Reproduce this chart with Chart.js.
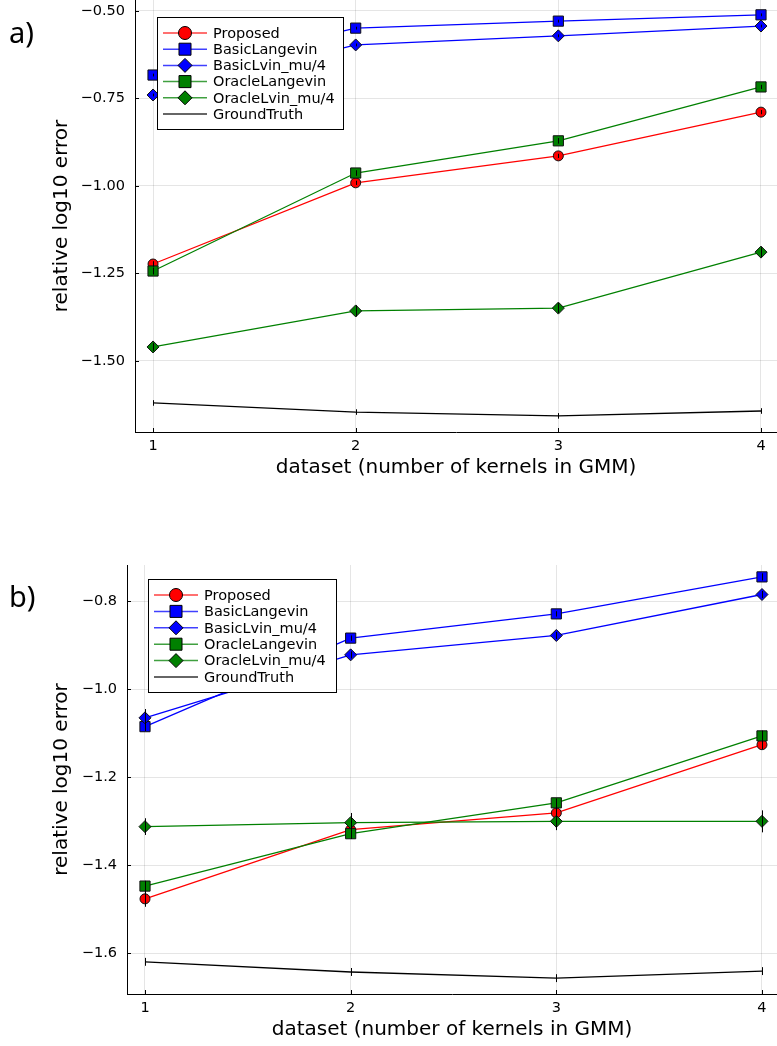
<!DOCTYPE html>
<html>
<head>
<meta charset="utf-8">
<script src="https://cdn.jsdelivr.net/npm/chart.js@4.4.0/dist/chart.umd.min.js"></script>
<style>
    body { margin: 0; background: #fff; width: 777px; height: 1046px; position: relative; overflow: hidden; }
    canvas { position: absolute; left: 0; }
    #chartA { top: 0; }
    #chartB { top: 520px; }
    .panel { position: absolute; left: 9px; font-family: "Noto Sans", sans-serif; font-size: 29px; line-height: 29px; color: #000; }
</style>
</head>
<body>
<canvas id="chartA" width="777" height="490"></canvas>
<canvas id="chartB" width="777" height="526"></canvas>
<div class="panel" style="top: 17px;">a)</div>
<div class="panel" style="top: 581px;">b)</div>
<script>
// x values: dataset (number of kernels)
const kernels = [1, 2, 3, 4];
const seriesNames = ["Proposed", "BasicLangevin", "BasicLvin_mu/4", "OracleLangevin", "OracleLvin_mu/4", "GroundTruth"];

// panel a)
const aProposed = [-1.223, -0.991, -0.914, -0.789];
const aBasicLangevin = [-0.683, -0.549, -0.529, -0.511];
const aBasicLvinMu4 = [-0.740, -0.597, -0.571, -0.543];
const aOracleLangevin = [-1.243, -0.963, -0.871, -0.717];
const aOracleLvinMu4 = [-1.460, -1.357, -1.349, -1.189];
const aGroundTruth = [-1.620, -1.646, -1.657, -1.643];

const aProposedErr = [0.008, 0.006, 0.006, 0.006];
const aBasicLangevinErr = [0.004, 0.004, 0.004, 0.004];
const aBasicLvinMu4Err = [0.004, 0.004, 0.004, 0.004];
const aOracleLangevinErr = [0.010, 0.008, 0.008, 0.006];
const aOracleLvinMu4Err = [0.012, 0.016, 0.014, 0.014];
const aGroundTruthErr = [0.008, 0.008, 0.008, 0.008];

const aYTicks = [-0.5, -0.75, -1.0, -1.25, -1.5];

// panel b)
const bProposed = [-1.476, -1.319, -1.281, -1.126];
const bBasicLangevin = [-1.085, -0.884, -0.829, -0.745];
const bBasicLvinMu4 = [-1.065, -0.922, -0.878, -0.785];
const bOracleLangevin = [-1.447, -1.328, -1.258, -1.106];
const bOracleLvinMu4 = [-1.312, -1.303, -1.300, -1.300];
const bGroundTruth = [-1.619, -1.642, -1.656, -1.640];

const bProposedErr = [0.018, 0.012, 0.014, 0.010];
const bBasicLangevinErr = [0.010, 0.006, 0.006, 0.008];
const bBasicLvinMu4Err = [0.020, 0.008, 0.008, 0.008];
const bOracleLangevinErr = [0.012, 0.012, 0.010, 0.012];
const bOracleLvinMu4Err = [0.019, 0.022, 0.020, 0.025];
const bGroundTruthErr = [0.009, 0.009, 0.009, 0.009];

const bYTicks = [-0.8, -1.0, -1.2, -1.4, -1.6];

Chart.defaults.font.family = "'DejaVu Sans', sans-serif";
Chart.defaults.color = "#000";

const styles = [
    { color: "#ff0000", fill: "#ff0000", point: "circle", radius: 5 },
    { color: "#0000ff", fill: "#0000ff", point: "rect", radius: 7.2 },
    { color: "#0000ff", fill: "#0000ff", point: "rectRot", radius: 6 },
    { color: "#008000", fill: "#008000", point: "rect", radius: 7.2 },
    { color: "#008000", fill: "#008000", point: "rectRot", radius: 6 },
    { color: "#000000", fill: "#000000", point: false, radius: 0 },
];
const legendRadius = [6.5, 8.5, 7, 8.5, 7, 0];

function toPoints(vals) {
    return kernels.map(function (k, i) { return { x: k, y: vals[i] }; });
}

function fmtMinus(v, digits) {
    return v.toFixed(digits).replace("-", "\u2212");
}

// error bars, inner tick marks and the legend box
const extrasPlugin = {
    id: "extras",
    afterDatasetsDraw(chart) {
        const ctx = chart.ctx;
        const xs = chart.scales.x;
        const ys = chart.scales.y;
        ctx.save();
        ctx.strokeStyle = "#000";
        ctx.lineWidth = 1;
        chart.data.datasets.forEach(function (ds) {
            ds.data.forEach(function (p, i) {
                const e = ds.errors[i];
                const px = Math.round(xs.getPixelForValue(p.x)) + 0.5;
                ctx.beginPath();
                ctx.moveTo(px, ys.getPixelForValue(p.y + e));
                ctx.lineTo(px, ys.getPixelForValue(p.y - e));
                ctx.stroke();
            });
        });
        ctx.restore();
    },
    afterDraw(chart, args, opts) {
        const ctx = chart.ctx;
        const area = chart.chartArea;
        const xs = chart.scales.x;
        const ys = chart.scales.y;
        ctx.save();
        ctx.strokeStyle = "#000";
        ctx.lineWidth = 1;
        ys.ticks.forEach(function (t) {
            const py = Math.round(ys.getPixelForValue(t.value)) + 0.5;
            ctx.beginPath();
            ctx.moveTo(area.left, py);
            ctx.lineTo(area.left + 4, py);
            ctx.stroke();
        });
        xs.ticks.forEach(function (t) {
            const px = Math.round(xs.getPixelForValue(t.value)) + 0.5;
            ctx.beginPath();
            ctx.moveTo(px, area.bottom);
            ctx.lineTo(px, area.bottom - 4);
            ctx.stroke();
        });

        // legend
        const b = opts.box;
        ctx.fillStyle = "#fff";
        ctx.fillRect(b.x, b.y, b.w, b.h);
        ctx.strokeStyle = "#000";
        ctx.strokeRect(b.x + 0.5, b.y + 0.5, b.w, b.h);
        ctx.font = "14.5px 'DejaVu Sans'";
        ctx.textBaseline = "middle";
        ctx.textAlign = "left";
        chart.data.datasets.forEach(function (ds, i) {
            const st = styles[i];
            const ry = b.y + 16 + i * opts.step;
            ctx.strokeStyle = st.color;
            ctx.globalAlpha = i === 5 ? 0.8 : 0.75;
            ctx.lineWidth = 1.5;
            ctx.beginPath();
            ctx.moveTo(b.x + 6, ry);
            ctx.lineTo(b.x + 50, ry);
            ctx.stroke();
            ctx.globalAlpha = 1;
            if (st.point) {
                ctx.fillStyle = st.fill;
                ctx.strokeStyle = "#000";
                ctx.lineWidth = 1;
                Chart.helpers.drawPoint(ctx, {
                    pointStyle: st.point,
                    radius: legendRadius[i],
                    rotation: 0,
                    borderWidth: 1,
                }, b.x + 28, ry);
            }
            ctx.fillStyle = "#000";
            ctx.fillText(ds.label, b.x + 56, ry + 1);
        });
        ctx.restore();
    },
};

function makeChart(canvasId, seriesVals, seriesErrs, yTicks, digits, cfg) {
    const datasets = seriesVals.map(function (vals, i) {
        const st = styles[i];
        return {
            label: seriesNames[i],
            data: toPoints(vals),
            errors: seriesErrs[i],
            borderColor: st.color,
            backgroundColor: st.fill,
            borderWidth: 1.3,
            pointStyle: st.point,
            pointRadius: st.radius,
            pointBackgroundColor: st.fill,
            pointBorderColor: "#111",
            pointBorderWidth: 1,
            tension: 0,
            order: -i,
        };
    });

    return new Chart(document.getElementById(canvasId), {
        type: "line",
        data: { datasets: datasets },
        options: {
            responsive: false,
            animation: false,
            devicePixelRatio: 1,
            layout: { autoPadding: false, padding: { top: cfg.padTop, left: 0, right: 0, bottom: 0 } },
            plugins: {
                legend: { display: false },
                tooltip: { enabled: false },
                extras: { box: cfg.box, step: cfg.step },
            },
            scales: {
                x: {
                    type: "linear",
                    min: cfg.xMin,
                    max: cfg.xMax,
                    afterBuildTicks: function (scale) {
                        scale.ticks = kernels.map(function (k) { return { value: k }; });
                    },
                    afterFit: function (scale) {
                        scale.height = cfg.xHeight;
                        scale.paddingLeft = 0;
                        scale.paddingRight = 0;
                    },
                    ticks: {
                        font: { size: 14.5 },
                        padding: 6,
                        callback: function (v) { return String(v); },
                    },
                    grid: { color: "rgba(0,0,0,0.1)", lineWidth: 1, drawTicks: false },
                    border: { display: true, color: "#000", width: 1 },
                    title: {
                        display: true,
                        text: "dataset (number of kernels in GMM)",
                        font: { size: 20 },
                        padding: { top: 0, bottom: cfg.xTitlePad },
                    },
                },
                y: {
                    type: "linear",
                    min: cfg.yMin,
                    max: cfg.yMax,
                    afterBuildTicks: function (scale) {
                        scale.ticks = yTicks.map(function (v) { return { value: v }; });
                    },
                    afterFit: function (scale) {
                        scale.width = cfg.yWidth;
                        scale.paddingTop = 0;
                        scale.paddingBottom = 0;
                    },
                    ticks: {
                        font: { size: 14.5 },
                        padding: 10,
                        callback: function (v) { return fmtMinus(v, digits); },
                    },
                    grid: { color: "rgba(0,0,0,0.1)", lineWidth: 1, drawTicks: false },
                    border: { display: true, color: "#000", width: 1 },
                    title: {
                        display: true,
                        text: "relative log10 error",
                        font: { size: 20 },
                        padding: { top: 50, bottom: 0 },
                    },
                },
            },
        },
        plugins: [extrasPlugin],
    });
}

makeChart("chartA",
    [aProposed, aBasicLangevin, aBasicLvinMu4, aOracleLangevin, aOracleLvinMu4, aGroundTruth],
    [aProposedErr, aBasicLangevinErr, aBasicLvinMu4Err, aOracleLangevinErr, aOracleLvinMu4Err, aGroundTruthErr],
    aYTicks, 2,
    {
        padTop: 0, xMin: 0.911, xMax: 4.079, yMin: -1.703, yMax: -0.4686,
        xHeight: 58, yWidth: 135, xTitlePad: 10,
        box: { x: 157, y: 17, w: 186, h: 112 }, step: 16.2,
    });

makeChart("chartB",
    [bProposed, bBasicLangevin, bBasicLvinMu4, bOracleLangevin, bOracleLvinMu4, bGroundTruth],
    [bProposedErr, bBasicLangevinErr, bBasicLvinMu4Err, bOracleLangevinErr, bOracleLvinMu4Err, bGroundTruthErr],
    bYTicks, 1,
    {
        padTop: 45, xMin: 0.9125, xMax: 4.073, yMin: -1.692, yMax: -0.718,
        xHeight: 52, yWidth: 127, xTitlePad: 4,
        box: { x: 148, y: 59, w: 188, h: 113 }, step: 16.4,
    });
</script>
</body>
</html>
